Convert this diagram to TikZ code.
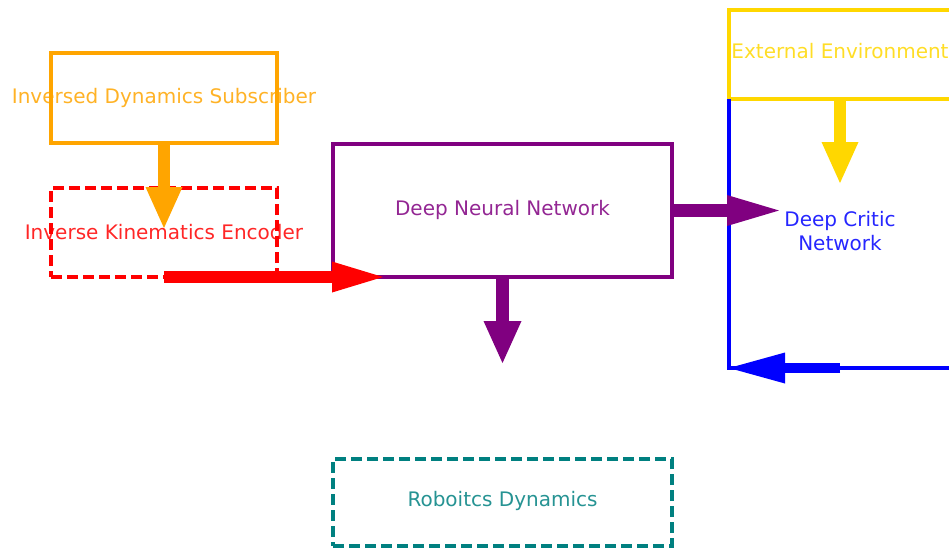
\documentclass[tikz,border=0pt]{standalone}
\usepackage{fontspec}
\setmainfont{DejaVu Sans}
\usetikzlibrary{arrows.meta}
\definecolor{idsorange}{RGB}{255,165,0}
\definecolor{envgold}{RGB}{255,215,0}
\definecolor{dnnpurple}{RGB}{128,0,128}
\definecolor{rdteal}{RGB}{0,128,128}
\tikzset{
  box/.style={draw, rectangle, line width=3.2pt, inner sep=0pt, outer sep=0pt},
  dashbox/.style={box, dash pattern=on 11pt off 5pt},
  txt/.style={font=\fontsize{20}{24}\selectfont, text opacity=0.85, align=center},
  fat/.style 2 args={line width=12.5pt, -{Triangle[width=#1, length=#2, line width=0pt]}}
}
\begin{document}
\begin{tikzpicture}[x=1pt, y=-1pt]
  % 画布
  \useasboundingbox (0,0) rectangle (949,547);
  \clip (0,0) rectangle (949,547);
  % 方框
  \node[box, draw=idsorange, minimum width=226pt, minimum height=90pt,
    label={[txt, idsorange]center:Inversed Dynamics Subscriber}] (ids) at (164,98) {};
  \node[dashbox, draw=red, minimum width=226pt, minimum height=89pt,
    label={[txt, red]center:Inverse Kinematics Encoder}] (ike) at (164,232.5) {};
  \node[box, draw=dnnpurple, minimum width=339pt, minimum height=133pt,
    label={[txt, dnnpurple, yshift=1pt]center:Deep Neural Network}] (dnn) at (502.5,210.5) {};
  \node[box, draw=envgold, minimum width=222pt, minimum height=89pt,
    label={[txt, envgold, yshift=3pt]center:External Environment}] (ee) at (840,54.5) {};
  \node[dashbox, draw=rdteal, minimum width=339pt, minimum height=87pt,
    label={[txt, rdteal, yshift=2pt]center:Roboitcs Dynamics}] (rd) at (502.5,502.5) {};
  \node[txt, blue] (critic) at (840,231) {Deep Critic\\Network};
  % 箭头终点
  \coordinate (ikeTip) at (164,228);
  \coordinate (redTip) at (383,277);
  \coordinate (dnnTip) at (502.5,363);
  \coordinate (criticTip) at (779,210.5);
  \coordinate (envTip) at (840,183);
  \coordinate (loopA) at (729,368);
  \coordinate (loopB) at (949,368);
  \coordinate (loopC) at (840,368);
  % 蓝色回路
  \draw[blue, line width=3.2pt] (ee.south west) -- (loopA) -- (loopB);
  \draw[blue, fat={31pt}{56pt}, line width=10.5pt] (loopC) -- (loopA);
  % 箭头
  \draw[idsorange, fat={37pt}{41pt}] (ids.south) -- (ikeTip);
  \draw[red, fat={31pt}{51pt}] (ike.south) -- (redTip);
  \draw[dnnpurple, fat={38pt}{42pt}] (dnn.south) -- (dnnTip);
  \draw[dnnpurple, fat={31pt}{52pt}] (dnn.east) -- (criticTip);
  \draw[envgold, fat={37pt}{41pt}] (ee.south) -- (envTip);
\end{tikzpicture}
\end{document}
